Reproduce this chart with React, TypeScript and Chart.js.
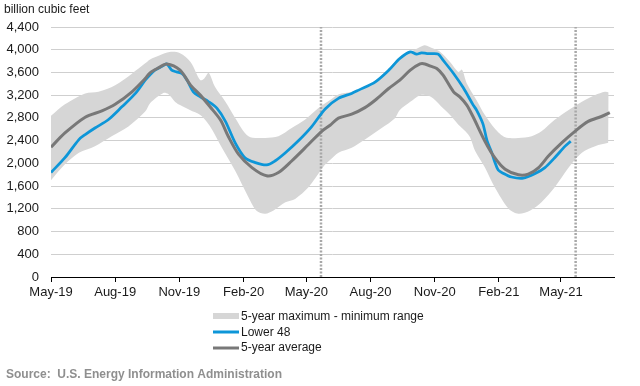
import React, { useEffect, useRef } from 'react';
import { Chart, registerables } from 'chart.js';

Chart.register(...registerables);

// x values are days counted from 1 May 2019
const tickDays = [0, 92, 184, 276, 366, 458, 550, 642, 731];
const tickLabels = ['May-19', 'Aug-19', 'Nov-19', 'Feb-20', 'May-20', 'Aug-20', 'Nov-20', 'Feb-21', 'May-21'];
const xMaxDay = 807;
const markerDays = [387, 752];

const lower48Days = [0, 20, 40, 49, 63, 82, 102, 121, 135, 142, 149, 161, 166, 173, 180, 188, 195, 204, 214, 226, 238, 250, 264, 278, 293, 309, 321, 336, 355, 374, 393, 412, 431, 441, 465, 484, 500, 515, 524, 531, 539, 548, 555, 562, 577, 591, 605, 610, 619, 625, 632, 636, 641, 648, 660, 677, 694, 708, 722, 737, 745];
const lower48Vals = [1839, 2100, 2419, 2506, 2622, 2767, 2999, 3231, 3463, 3560, 3640, 3720, 3750, 3640, 3610, 3580, 3465, 3259, 3171, 3084, 2968, 2740, 2361, 2100, 2013, 1972, 2042, 2187, 2401, 2651, 2958, 3144, 3231, 3289, 3434, 3637, 3846, 3962, 3921, 3944, 3933, 3933, 3921, 3816, 3582, 3330, 3030, 2938, 2700, 2400, 2180, 2030, 1884, 1826, 1760, 1740, 1821, 1926, 2100, 2303, 2390];

const avgDays = [0, 20, 49, 73, 92, 116, 135, 142, 154, 166, 185, 200, 214, 228, 243, 254, 269, 288, 309, 326, 345, 369, 388, 400, 412, 431, 450, 465, 484, 500, 515, 529, 536, 544, 553, 562, 577, 586, 596, 605, 622, 636, 651, 670, 684, 699, 713, 732, 751, 770, 789, 801];
const avgVals = [2285, 2535, 2813, 2923, 3039, 3260, 3492, 3593, 3680, 3750, 3640, 3377, 3201, 2996, 2762, 2477, 2158, 1926, 1781, 1839, 2042, 2332, 2564, 2670, 2796, 2865, 2981, 3115, 3318, 3465, 3640, 3750, 3750, 3710, 3670, 3552, 3259, 3171, 3026, 2820, 2390, 2100, 1897, 1798, 1810, 1926, 2129, 2361, 2564, 2738, 2825, 2894];

const maxDays = [0, 20, 49, 68, 92, 116, 135, 142, 156, 170, 185, 200, 214, 220, 226, 235, 250, 264, 283, 307, 326, 345, 364, 383, 400, 412, 431, 450, 465, 484, 500, 515, 529, 536, 548, 558, 572, 584, 589, 596, 610, 622, 637, 651, 670, 689, 703, 722, 742, 761, 780, 794, 800];
const maxVals = [2836, 3039, 3231, 3260, 3376, 3579, 3760, 3830, 3904, 3960, 3940, 3786, 3465, 3500, 3593, 3347, 3084, 2800, 2477, 2448, 2477, 2622, 2767, 2970, 3115, 3213, 3260, 3347, 3463, 3666, 3880, 3962, 4050, 4080, 4020, 3962, 3786, 3610, 3650, 3407, 3113, 2850, 2600, 2459, 2448, 2477, 2564, 2767, 2941, 3086, 3202, 3260, 3248];

const minDays = [0, 20, 40, 63, 87, 111, 135, 142, 161, 168, 178, 185, 199, 214, 224, 231, 245, 264, 283, 295, 307, 319, 336, 350, 369, 388, 393, 400, 412, 431, 450, 474, 493, 500, 515, 529, 539, 548, 562, 572, 584, 594, 601, 608, 622, 636, 656, 670, 687, 703, 722, 742, 761, 780, 799];
const minVals = [1705, 1984, 2187, 2303, 2477, 2651, 2912, 3060, 3240, 3220, 3080, 3026, 2938, 2850, 2720, 2593, 2274, 1868, 1404, 1160, 1114, 1172, 1317, 1375, 1578, 1900, 1980, 2060, 2187, 2274, 2419, 2622, 2796, 2938, 3084, 3201, 3201, 3143, 2968, 2850, 2680, 2564, 2450, 2216, 1926, 1578, 1201, 1114, 1172, 1317, 1578, 1926, 2187, 2303, 2361];

const unitLabel = 'billion cubic feet';
const legendRange = '5-year maximum - minimum range';
const legendLower48 = 'Lower 48';
const legendAvg = '5-year average';
const sourceText = 'Source:  U.S. Energy Information Administration';

const FONT = "'Liberation Sans', Arial, Helvetica, sans-serif";
const BLUE = '#0d96d8';
const GRAY = '#787878';
const RANGE = '#d6d6d6';

const pts = (xs: number[], ys: number[]) => xs.map((x, i) => ({ x, y: ys[i] }));

const textPlugin = {
  id: 'extraTexts',
  afterDraw(chart: any) {
    const ctx = chart.ctx;
    ctx.save();
    ctx.textBaseline = 'middle';
    ctx.textAlign = 'left';
    ctx.font = `12px ${FONT}`;
    ctx.fillStyle = '#1a1a1a';
    ctx.fillText(unitLabel, 4, 10);

    const sx = 213, sw = 26, tx = 241;
    ctx.fillStyle = RANGE;
    ctx.fillRect(sx, 313, sw, 6);
    ctx.lineWidth = 3;
    ctx.strokeStyle = BLUE;
    ctx.beginPath(); ctx.moveTo(sx, 332); ctx.lineTo(sx + sw, 332); ctx.stroke();
    ctx.strokeStyle = GRAY;
    ctx.beginPath(); ctx.moveTo(sx, 348); ctx.lineTo(sx + sw, 348); ctx.stroke();
    ctx.fillStyle = '#1a1a1a';
    ctx.fillText(legendRange, tx, 316.5);
    ctx.fillText(legendLower48, tx, 332.5);
    ctx.fillText(legendAvg, tx, 348);

    ctx.font = `bold 12px ${FONT}`;
    ctx.fillStyle = '#8f8f8f';
    ctx.fillText(sourceText, 6, 375);
    ctx.restore();
  },
};

export default function App() {
  const ref = useRef<HTMLCanvasElement | null>(null);
  useEffect(() => {
    if (!ref.current) return;
    const markerSets = markerDays.map((d) => ({
      label: 'marker',
      data: [{ x: d, y: 0 }, { x: d, y: 4400 }],
      borderColor: '#a8a8a8',
      borderWidth: 2.5,
      borderDash: [2, 1.5],
      pointRadius: 0,
      fill: false,
    }));
    const chart = new Chart(ref.current, {
      type: 'line',
      data: {
        datasets: [
          { label: legendAvg, data: pts(avgDays, avgVals), borderColor: GRAY, borderWidth: 3, pointRadius: 0, tension: 0.3, fill: false },
          { label: legendLower48, data: pts(lower48Days, lower48Vals), borderColor: BLUE, borderWidth: 2.75, pointRadius: 0, tension: 0.3, fill: false },
          ...markerSets,
          { label: legendRange, data: pts(maxDays, maxVals), borderColor: 'rgba(0,0,0,0)', borderWidth: 0, backgroundColor: RANGE, pointRadius: 0, tension: 0.3, fill: '+1' },
          { label: 'min', data: pts(minDays, minVals), borderColor: 'rgba(0,0,0,0)', borderWidth: 0, pointRadius: 0, tension: 0.3, fill: false },
        ],
      } as any,
      options: {
        animation: false,
        responsive: false,
        devicePixelRatio: 1,
        layout: { padding: { left: 0, right: 26, top: 27, bottom: 0 } },
        plugins: { legend: { display: false }, tooltip: { enabled: false } },
        scales: {
          x: {
            type: 'linear',
            min: 0,
            max: xMaxDay,
            afterBuildTicks: (s: any) => { s.ticks = tickDays.map((v) => ({ value: v })); },
            afterFit: (s: any) => { s.height = 109; },
            ticks: {
              autoSkip: false,
              maxRotation: 0,
              padding: 3,
              color: '#1a1a1a',
              font: { family: FONT, size: 13 },
              callback: (v: any) => tickLabels[tickDays.indexOf(Number(v))] ?? '',
            },
            grid: { drawOnChartArea: false, drawTicks: true, tickLength: 5, color: '#000' },
            border: { color: '#000', width: 1 },
          },
          y: {
            min: 0,
            max: 4400,
            afterFit: (s: any) => { s.width = 51; },
            ticks: {
              stepSize: 400,
              padding: 12,
              color: '#1a1a1a',
              font: { family: FONT, size: 13 },
              callback: (v: any) => Number(v).toLocaleString('en-US'),
            },
            grid: {
              drawTicks: false,
              color: (c: any) => (c.tick && c.tick.value === 0 ? 'rgba(0,0,0,0)' : '#cfcfcf'),
            },
            border: { display: false },
          },
        },
      } as any,
      plugins: [textPlugin],
    });
    return () => chart.destroy();
  }, []);
  return (
    <div style={{ position: 'absolute', left: 0, top: 0, width: 640, height: 386, background: '#fff' }}>
      <canvas ref={ref} width={640} height={386} style={{ display: 'block' }} />
    </div>
  );
}
